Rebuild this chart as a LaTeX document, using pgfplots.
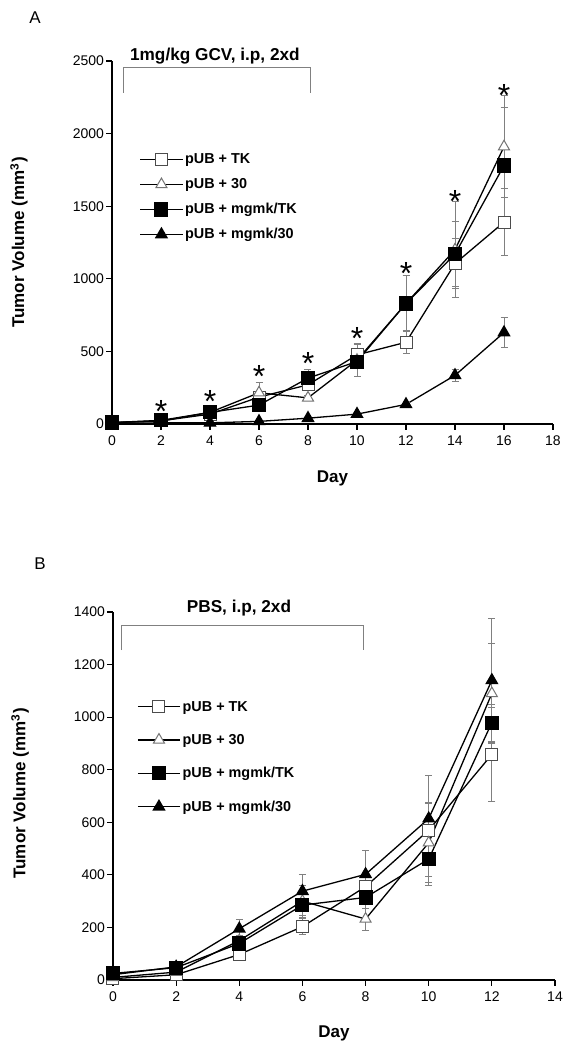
\documentclass[border=0pt]{standalone}
\usepackage{fontspec}
\setmainfont{Liberation Sans}
\usepackage{pgfplots}
\pgfplotsset{compat=1.18}
\usepackage{pgfplotstable}

% Panel A data: day, volume, error
\pgfplotstableread{
x y e
0 10 0
2 22 5
4 68 12
6 185 30
8 270 25
10 476 70
12 563 80
14 1105 170
16 1390 230
}\ATK
\pgfplotstableread{
x y e
0 10 0
2 20 5
4 80 15
6 215 70
8 180 20
10 440 115
12 830 190
14 1200 330
16 1910 350
}\AThirty
\pgfplotstableread{
x y e
0 10 0
2 25 10
4 80 15
6 130 20
8 316 60
10 430 50
12 830 195
14 1170 225
16 1780 400
}\AMTK
\pgfplotstableread{
x y e
0 5 0
2 8 3
4 8 3
6 18 5
8 40 5
10 68 8
12 135 15
14 335 40
16 630 105
}\AMThirty
\pgfplotstableread{
x y
2 8
4 76
6 251
8 341
10 514
12 961
14 1460
16 2184
}\AStars

% Panel B data
\pgfplotstableread{
x y e
0 5 0
2 20 5
4 97 15
6 203 30
8 355 40
10 570 210
12 858 180
}\BTK
\pgfplotstableread{
x y e
0 10 0
2 30 5
4 150 20
6 300 60
8 232 42
10 522 150
12 1090 190
}\BThirty
\pgfplotstableread{
x y e
0 25 0
2 47 5
4 139 20
6 285 40
8 314 40
10 460 67
12 979 70
}\BMTK
\pgfplotstableread{
x y e
0 20 0
2 50 5
4 195 36
6 338 64
8 402 92
10 614 60
12 1140 235
}\BMThirty

\pgfplotsset{
  tumor/.style={
    scale only axis,
    axis lines=left,
    axis line style={-, line width=0.8pt},
    tick align=outside,
    major tick length=2.8pt,
    tick style={black, line width=0.6pt},
    clip=false,
    ticklabel style={font=\fontsize{7}{8}\selectfont, inner sep=1pt},
    xticklabel style={yshift=-2pt},
    /pgf/number format/assume math mode=true,
    /pgf/number format/set thousands separator={},
    label style={font=\bfseries\fontsize{8.5}{10}\selectfont},
    ylabel={Tumor Volume (mm\textsuperscript{3})},
    xlabel={Day},
    legend cell align=left,
    legend image code/.code={\draw[mark repeat=2,mark phase=2,##1] plot coordinates {(0cm,0cm) (0.37cm,0cm) (0.74cm,0cm)};},
  },
  ser/.style={black, line width=0.65pt,
    error bars/y dir=both, error bars/y explicit,
    error bars/error bar style={gray, line width=0.4pt},
    error bars/error mark options={gray, mark size=1.75pt, line width=0.4pt, rotate=90}},
  opensq/.style={mark=square*, mark size=3pt, mark options={fill=white, draw=black!70, line width=0.5pt}},
  opentri/.style={mark=triangle*, mark size=3.2pt, mark options={fill=white, draw=black!55, line width=0.5pt}},
  fillsq/.style={mark=square*, mark size=3.2pt, mark options={fill=black, draw=black}},
  filltri/.style={mark=triangle*, mark size=3.2pt, mark options={fill=black, draw=black}},
}

\begin{document}
\begin{tikzpicture}
\useasboundingbox (0,0) rectangle (284pt,525pt);

\node[font=\fontsize{8.5}{10}\selectfont] at (17.5pt,516pt) {A};
\node[font=\fontsize{8.5}{10}\selectfont] at (20pt,243pt) {B};

% ---------------- Panel A ----------------
\begin{axis}[tumor,
  at={(56pt,313pt)}, anchor=south west,
  width=220.5pt, height=181.5pt,
  xmin=0, xmax=18, ymin=0, ymax=2500,
  xtick={0,2,...,18}, ytick={0,500,...,2500},
  ylabel style={at={(axis description cs:-0.211,0.5)}, anchor=center},
  xlabel style={at={(axis description cs:0.5,-0.149)}, anchor=center},
  legend style={draw=none, fill=none, at={(0.062,0.756)}, anchor=north west,
    font=\bfseries\fontsize{7.2}{8.5}\selectfont, row sep=3pt, inner sep=0pt,
    nodes={inner sep=1pt, text height=6pt, text depth=1.5pt}},
]
\addplot[ser, opensq] table[x=x, y=y, y error=e] {\ATK};
\addlegendentry{pUB + TK}
\addplot[ser, opentri] table[x=x, y=y, y error=e] {\AThirty};
\addlegendentry{pUB + 30}
\addplot[ser, fillsq] table[x=x, y=y, y error=e] {\AMTK};
\addlegendentry{pUB + mgmk/TK}
\addplot[ser, filltri] table[x=x, y=y, y error=e] {\AMThirty};
\addlegendentry{pUB + mgmk/30}
\addplot[draw=none, mark=none, nodes near coords={*},
  every node near coord/.append style={anchor=base, inner sep=0pt, font=\fontsize{16}{17}\selectfont}]
  table[x=x, y=y] {\AStars};
\draw[gray, line width=0.5pt] (axis cs:0.45,2280) |- (axis cs:8.12,2454) -- (axis cs:8.12,2280);
\node[font=\bfseries\fontsize{8.6}{10}\selectfont] at (axis cs:4.2,2534) {1mg/kg GCV, i.p, 2xd};
\end{axis}

% ---------------- Panel B ----------------
\begin{axis}[tumor,
  at={(56.5pt,35pt)}, anchor=south west,
  width=221pt, height=184pt,
  xmin=0, xmax=14, ymin=0, ymax=1400,
  xtick={0,2,...,14}, ytick={0,200,...,1400},
  ylabel style={at={(axis description cs:-0.21,0.507)}, anchor=center},
  xlabel style={at={(axis description cs:0.5,-0.144)}, anchor=center},
  legend style={draw=none, fill=none, at={(0.054,0.770)}, anchor=north west,
    font=\bfseries\fontsize{7.2}{8.5}\selectfont, row sep=7.2pt, inner sep=0pt,
    nodes={inner sep=1pt, text height=6pt, text depth=1.5pt}},
]
\addplot[ser, opensq] table[x=x, y=y, y error=e] {\BTK};
\addlegendentry{pUB + TK}
\addplot[ser, opentri] table[x=x, y=y, y error=e] {\BThirty};
\addlegendentry{pUB + 30}
\addplot[ser, fillsq] table[x=x, y=y, y error=e] {\BMTK};
\addlegendentry{pUB + mgmk/TK}
\addplot[ser, filltri] table[x=x, y=y, y error=e] {\BMThirty};
\addlegendentry{pUB + mgmk/30}
\draw[gray, line width=0.5pt] (axis cs:0.26,1255) |- (axis cs:7.94,1347) -- (axis cs:7.94,1255);
\node[font=\bfseries\fontsize{8.6}{10}\selectfont] at (axis cs:3.99,1415) {PBS, i.p, 2xd};
\end{axis}
\end{tikzpicture}
\end{document}
